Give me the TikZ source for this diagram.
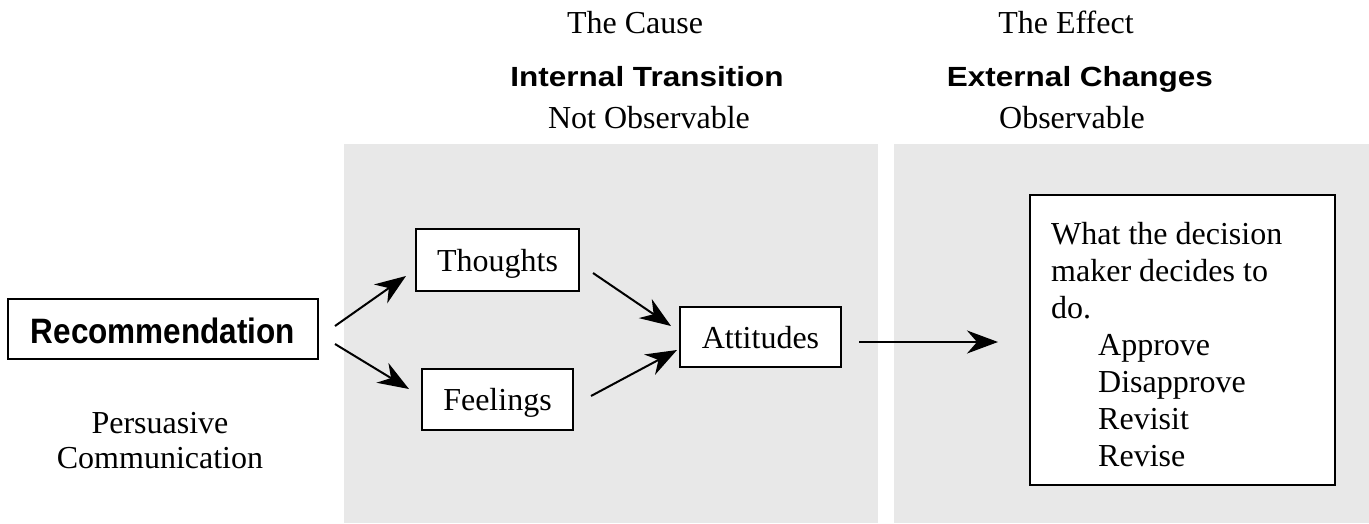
\documentclass[tikz,border=0pt]{standalone}
\usepackage{graphicx}
\usepackage{fontspec}
\setmainfont{Liberation Serif}
\setsansfont{Liberation Sans}
\usetikzlibrary{arrows.meta}
\definecolor{panelgray}{RGB}{232,232,232}
\begin{document}
\begin{tikzpicture}[x=1pt,y=-1pt,
  serif/.style={font=\fontsize{32}{37}\selectfont},
  boldsans/.style={font=\fontsize{31.5}{36}\selectfont\sffamily\bfseries},
  box/.style={draw=black, line width=2pt, fill=white, text height=22pt, text depth=0pt, inner sep=0pt},
  arr/.style={line width=2pt, -{Stealth[length=31pt,width=23pt,inset=10pt]}},
  panel/.style={fill=panelgray, draw=none, inner sep=0pt}]
\useasboundingbox (0,0) rectangle (1369,523);
% background panels
\node[panel, minimum width=534pt, minimum height=379pt] (panelA) at (611,333.5) {};
\node[panel, minimum width=475pt, minimum height=379pt] (panelB) at (1131.5,333.5) {};
% headers
\node[serif, anchor=base] (cause) at (635,33) {The Cause};
\node[boldsans, anchor=base] (internal) at (647,86) {\scalebox{1}[0.88]{Internal Transition}};
\node[serif, anchor=base] (notobs) at (649,128) {Not Observable};
\node[serif, anchor=base] (effect) at (1066,33) {The Effect};
\node[boldsans, anchor=base] (external) at (1080,86) {\scalebox{1}[0.88]{External Changes}};
\node[serif, anchor=base] (obs) at (1072,128) {Observable};
% boxes
\node[box, boldsans, text height=28pt, minimum width=310pt, minimum height=60pt] (rec) at (163,329) {\scalebox{1}[1.12]{Recommendation}};
\node[serif, anchor=base] (pers1) at (160,433) {Persuasive};
\node[serif, anchor=base] (pers2) at (160,468) {Communication};
\node[box, serif, minimum width=163pt, minimum height=62pt] (thoughts) at (497.5,260) {Thoughts};
\node[box, serif, minimum width=151pt, minimum height=61pt] (feelings) at (497.5,399.5) {Feelings};
\node[box, serif, minimum width=161pt, minimum height=60pt] (attitudes) at (760.5,337) {Attitudes};
\node[box, minimum width=305pt, minimum height=290pt] (decision) at (1182.5,340) {};
\node[serif, anchor=north west, align=left, inner sep=0pt] (dtext) at (1051,222)
  {What the decision\\maker decides to\\do.\\\hspace*{47pt}Approve\\\hspace*{47pt}Disapprove\\\hspace*{47pt}Revisit\\\hspace*{47pt}Revise};
% connectors
\draw[arr] ([xshift=16pt,yshift=3pt]rec.east) -- ([xshift=-9pt,yshift=-16pt]thoughts.west);
\draw[arr] ([xshift=16pt,yshift=-15pt]rec.east) -- ([xshift=-12pt,yshift=10.5pt]feelings.west);
\draw[arr] ([xshift=13pt,yshift=-13pt]thoughts.east) -- ([xshift=-8pt,yshift=11pt]attitudes.west);
\draw[arr] ([xshift=17pt,yshift=3.5pt]feelings.east) -- ([xshift=-2pt,yshift=-13pt]attitudes.west);
\draw[arr] ([xshift=17pt,yshift=-5pt]attitudes.east) -- ([xshift=-31pt,yshift=-2pt]decision.west);
\end{tikzpicture}
\end{document}
